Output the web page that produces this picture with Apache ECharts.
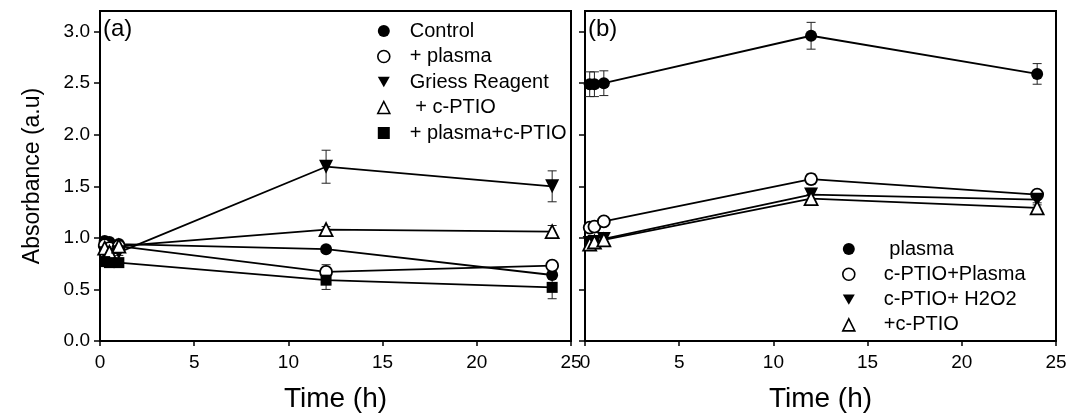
<!DOCTYPE html>
<html>
<head>
<meta charset="utf-8">
<script src="https://cdn.jsdelivr.net/npm/echarts@6/dist/echarts.min.js"></script>
<style>
  html, body { margin: 0; padding: 0; background: #fff; }
  #chart { width: 1083px; height: 418px; }
</style>
</head>
<body>
<div id="chart"></div>
<script>
// sampling times (h), shared by both panels
const times = [0.25, 0.5, 1, 12, 24]
const xTicks = [0, 5, 10, 15, 20, 25]
const yTicks = [0, 0.5, 1.0, 1.5, 2.0, 2.5, 3.0]

// panel (a)
const controlA = [0.97, 0.96, 0.94, 0.89, 0.64]
const controlAErr = [0.02, 0.02, 0.02, 0.03, 0.03]
const plasmaA = [0.93, 0.90, 0.92, 0.67, 0.73]
const plasmaAErr = [0.03, 0.03, 0.03, 0.07, 0.03]
const griessA = [0.85, 0.84, 0.86, 1.69, 1.50]
const griessAErr = [0.03, 0.03, 0.03, 0.16, 0.15]
const cptioA = [0.90, 0.86, 0.92, 1.08, 1.06]
const cptioAErr = [0.03, 0.03, 0.03, 0.03, 0.06]
const plasmaCptioA = [0.77, 0.76, 0.76, 0.59, 0.52]
const plasmaCptioAErr = [0.03, 0.03, 0.03, 0.09, 0.11]

// panel (b)
const plasmaB = [2.49, 2.49, 2.50, 2.96, 2.59]
const plasmaBErr = [0.12, 0.12, 0.12, 0.13, 0.10]
const cptioPlasmaB = [1.10, 1.11, 1.16, 1.57, 1.42]
const cptioPlasmaBErr = [0.02, 0.02, 0.02, 0.05, 0.03]
const cptioH2O2B = [0.95, 0.96, 0.99, 1.42, 1.37]
const cptioH2O2BErr = [0.03, 0.03, 0.03, 0.06, 0.03]
const cptioB = [0.94, 0.96, 0.98, 1.38, 1.29]
const cptioBErr = [0.02, 0.02, 0.02, 0.04, 0.03]

const FONT = 'Liberation Sans, Arial, sans-serif'
const DOWN_TRI = 'path://M0,0L20,0L10,17.3Z'

const MARKERS = {
  filledCircle: { symbol: 'circle', fill: '#000', size: 12 },
  openCircle: { symbol: 'circle', fill: '#fff', size: 12 },
  downTri: { symbol: DOWN_TRI, fill: '#000', size: 14 },
  openTri: { symbol: 'triangle', fill: '#fff', size: 13 },
  square: { symbol: 'rect', fill: '#000', size: 11 },
}

const panelA = [
  { name: 'Control', values: controlA, errors: controlAErr, marker: 'filledCircle' },
  { name: '+ plasma', values: plasmaA, errors: plasmaAErr, marker: 'openCircle' },
  { name: 'Griess Reagent', values: griessA, errors: griessAErr, marker: 'downTri' },
  { name: ' + c-PTIO', values: cptioA, errors: cptioAErr, marker: 'openTri' },
  { name: '+ plasma+c-PTIO', values: plasmaCptioA, errors: plasmaCptioAErr, marker: 'square' },
]
const panelB = [
  { name: ' plasma', values: plasmaB, errors: plasmaBErr, marker: 'filledCircle' },
  { name: 'c-PTIO+Plasma', values: cptioPlasmaB, errors: cptioPlasmaBErr, marker: 'openCircle' },
  { name: 'c-PTIO+ H2O2', values: cptioH2O2B, errors: cptioH2O2BErr, marker: 'downTri' },
  { name: '+c-PTIO', values: cptioB, errors: cptioBErr, marker: 'openTri' },
]

function errorBarSeries(list, idx) {
  const data = []
  list.forEach(s => {
    s.values.forEach((v, i) => data.push([times[i], v - s.errors[i], v + s.errors[i]]))
  })
  return {
    type: 'custom',
    xAxisIndex: idx,
    yAxisIndex: idx,
    silent: true,
    z: 1,
    data: data,
    encode: { x: 0, y: [1, 2] },
    renderItem: (params, api) => {
      const lo = api.coord([api.value(0), api.value(1)])
      const hi = api.coord([api.value(0), api.value(2)])
      const w = 4.5
      const style = { stroke: '#222', lineWidth: 1 }
      return {
        type: 'group',
        children: [
          { type: 'line', shape: { x1: lo[0], y1: lo[1], x2: hi[0], y2: hi[1] }, style },
          { type: 'line', shape: { x1: lo[0] - w, y1: lo[1], x2: lo[0] + w, y2: lo[1] }, style },
          { type: 'line', shape: { x1: hi[0] - w, y1: hi[1], x2: hi[0] + w, y2: hi[1] }, style },
        ],
      }
    },
  }
}

function lineSeries(s, idx) {
  const m = MARKERS[s.marker]
  return {
    name: s.name,
    type: 'line',
    xAxisIndex: idx,
    yAxisIndex: idx,
    z: 3,
    data: s.values.map((v, i) => [times[i], v]),
    symbol: m.symbol,
    symbolSize: m.size,
    showAllSymbol: true,
    lineStyle: { color: '#000', width: 1.8 },
    itemStyle: { color: m.fill, borderColor: '#000', borderWidth: m.fill === '#fff' ? 1.8 : 0 },
    emphasis: { disabled: true },
    animation: false,
  }
}

function legendData(list) {
  return list.map(s => {
    const m = MARKERS[s.marker]
    return {
      name: s.name,
      icon: m.symbol,
      itemStyle: { color: m.fill, borderColor: '#000', borderWidth: m.fill === '#fff' ? 1.6 : 0 },
    }
  })
}

function xAxis(idx) {
  return {
    type: 'value',
    gridIndex: idx,
    min: 0,
    max: 25,
    interval: 5,
    name: 'Time (h)',
    nameLocation: 'middle',
    nameGap: 44,
    nameTextStyle: { fontFamily: FONT, fontSize: 28, color: '#000' },
    axisLine: { show: true, lineStyle: { color: '#000', width: 2 } },
    axisTick: { show: true, inside: false, length: 5, lineStyle: { color: '#000', width: 1.5 }, customValues: xTicks },
    axisLabel: { fontFamily: FONT, fontSize: 19, color: '#000', margin: 12, customValues: xTicks },
    splitLine: { show: false },
  }
}

function yAxis(idx) {
  return {
    type: 'value',
    gridIndex: idx,
    min: 0,
    max: 3.2,
    name: idx === 0 ? 'Absorbance (a.u)' : '',
    nameLocation: 'middle',
    nameGap: 56,
    nameTextStyle: { fontFamily: FONT, fontSize: 23, color: '#000' },
    axisLine: { show: true, lineStyle: { color: '#000', width: 2 } },
    axisTick: { show: true, inside: false, length: 6, lineStyle: { color: '#000', width: 1.5 }, customValues: yTicks },
    axisLabel: {
      show: idx === 0,
      fontFamily: FONT,
      fontSize: 19,
      color: '#000',
      margin: 10,
      customValues: yTicks,
      formatter: v => v.toFixed(1),
    },
    splitLine: { show: false },
  }
}

const chart = echarts.init(document.getElementById('chart'), null, { renderer: 'canvas' })

chart.setOption({
  animation: false,
  backgroundColor: '#fff',
  textStyle: { fontFamily: FONT },
  title: [
    { text: '(a)', left: 103, top: 17, textStyle: { fontFamily: FONT, fontSize: 24, fontWeight: 'normal', color: '#000' }, padding: 0 },
    { text: '(b)', left: 588, top: 17, textStyle: { fontFamily: FONT, fontSize: 24, fontWeight: 'normal', color: '#000' }, padding: 0 },
  ],
  grid: [
    { left: 100, right: 512, top: 11, bottom: 77, show: true, borderColor: '#000', borderWidth: 2, backgroundColor: 'transparent' },
    { left: 585, right: 27, top: 11, bottom: 77, show: true, borderColor: '#000', borderWidth: 2, backgroundColor: 'transparent' },
  ],
  legend: [
    {
      orient: 'vertical',
      left: 377,
      top: 21,
      padding: 0,
      itemWidth: 12,
      itemHeight: 12,
      itemGap: 5.5,
      selectedMode: false,
      data: legendData(panelA),
      textStyle: { fontFamily: FONT, fontSize: 20, color: '#000', lineHeight: 20, padding: [0, 0, 0, 15] },
    },
    {
      orient: 'vertical',
      left: 842,
      top: 239,
      padding: 0,
      itemWidth: 12,
      itemHeight: 12,
      itemGap: 5.3,
      selectedMode: false,
      data: legendData(panelB),
      textStyle: { fontFamily: FONT, fontSize: 20, color: '#000', lineHeight: 20, padding: [0, 0, 0, 24] },
    },
  ],
  xAxis: [xAxis(0), xAxis(1)],
  yAxis: [yAxis(0), yAxis(1)],
  series: [
    errorBarSeries(panelA, 0),
    errorBarSeries(panelB, 1),
    ...panelA.map(s => lineSeries(s, 0)),
    ...panelB.map(s => lineSeries(s, 1)),
  ],
})
</script>
</body>
</html>
